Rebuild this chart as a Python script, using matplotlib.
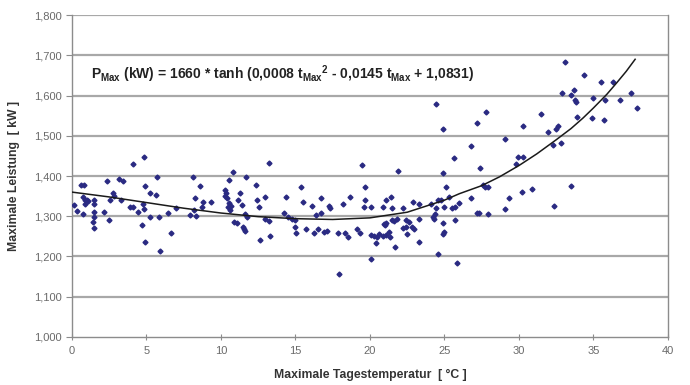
import matplotlib
matplotlib.use("Agg")
import matplotlib.pyplot as plt
from matplotlib.ticker import FuncFormatter

plt.rcParams['font.family'] = ['Liberation Sans', 'DejaVu Sans']
plt.rcParams['mathtext.fontset'] = 'custom'
plt.rcParams['mathtext.rm'] = 'Liberation Sans'
plt.rcParams['mathtext.bf'] = 'Liberation Sans:bold'
plt.rcParams['mathtext.it'] = 'Liberation Sans:italic'

# Scatter data: maximum daily temperature (°C) and maximum load (kW)
temp = [0.13, 0.36, 0.6, 0.8, 0.72, 0.76, 0.87, 1.0, 1.1, 0.87, 1.48, 1.48, 1.48, 1.48, 1.39, 1.48,
        2.17, 2.33, 2.5, 2.55, 2.77, 2.85, 3.18, 3.45, 3.27, 3.9, 4.1, 4.07, 4.83, 4.9, 5.23, 5.64,
        5.73, 4.45, 4.83, 4.8, 4.68, 4.9, 5.23, 5.86, 5.9, 6.46, 6.62, 6.98,
        8.14, 8.6, 8.26, 8.8, 9.3, 7.9, 8.3, 8.2, 8.7, 10.83, 10.56, 11.68, 10.3, 10.35, 10.3, 10.4,
        10.55, 10.5, 10.6, 10.7, 11.16, 11.27, 11.39, 11.6, 11.77, 10.9, 11.1, 11.5, 11.55, 11.6,
        12.35, 12.4, 12.95, 12.57, 13.24, 12.95, 13.2, 12.6, 13.3,
        19.5, 14.2, 14.36, 14.5, 14.8, 15.0, 14.97, 15.03, 15.39, 15.48, 15.7, 16.1, 16.26, 16.38,
        16.53, 16.7, 16.7, 16.9, 17.1, 17.27, 17.3, 17.87, 17.94, 18.2, 18.3, 18.5, 18.66, 19.1,
        19.3, 19.6, 19.7, 19.7, 20.1, 20.1, 20.3, 20.5, 20.1, 20.4,
        24.43, 24.88, 27.16, 26.8, 25.64, 21.9, 24.88, 25.1, 20.85, 21.1, 21.4, 21.5, 21.1, 21.0,
        20.95, 20.6, 20.9, 21.1, 21.3, 21.35, 21.7, 21.5, 21.6, 21.8, 22.2, 22.2, 22.4, 22.45,
        22.6, 22.5, 22.8, 22.95, 22.9, 23.3, 23.3, 23.3, 24.1, 24.2, 24.3, 24.4, 24.6, 24.75,
        24.45, 24.9, 24.9, 25.0, 24.6, 25.86, 25.0, 25.3, 25.5, 25.7, 26.0, 25.7, 26.8, 27.2,
        33.1, 32.86, 33.5, 33.7, 33.75, 33.8, 33.9, 27.8, 31.5, 30.3, 31.97, 32.5, 32.6, 29.06,
        32.26, 32.8, 29.95, 30.3, 29.8, 27.4, 27.6, 27.7, 27.9, 29.35, 30.2, 30.9, 33.47, 27.3,
        27.9, 29.06, 32.35, 34.36, 35.5, 36.3, 34.95, 35.77, 36.8, 37.5, 37.9, 34.9, 35.7]
load = [1327, 1312, 1378, 1378, 1306, 1349, 1340, 1341, 1338, 1330, 1340, 1330, 1311, 1299, 1286, 1272,
        1311, 1388, 1291, 1340, 1357, 1350, 1392, 1388, 1340, 1324, 1324, 1430, 1447, 1375, 1359, 1354,
        1398, 1311, 1317, 1330, 1278, 1237, 1299, 1299, 1214, 1309, 1259, 1321,
        1398, 1375, 1345, 1336, 1336, 1303, 1300, 1315, 1324, 1411, 1390, 1398, 1365, 1358, 1350, 1345,
        1332, 1322, 1315, 1325, 1340, 1358, 1328, 1306, 1298, 1285, 1283, 1274, 1268, 1264,
        1378, 1340, 1349, 1324, 1432, 1293, 1287, 1241, 1251,
        1427, 1309, 1349, 1298, 1294, 1290, 1274, 1258, 1372, 1336, 1268, 1325, 1258, 1303,
        1268, 1345, 1309, 1262, 1264, 1325, 1320, 1258, 1157, 1330, 1258, 1249, 1349, 1268,
        1259, 1322, 1372, 1340, 1322, 1253, 1251, 1249, 1193, 1233,
        1579, 1516, 1531, 1475, 1444, 1413, 1408, 1373, 1324, 1341, 1349, 1321, 1284, 1278,
        1280, 1256, 1250, 1254, 1262, 1249, 1224, 1291, 1287, 1292, 1320, 1270, 1273, 1291,
        1286, 1256, 1273, 1268, 1336, 1330, 1294, 1237, 1331, 1298, 1294, 1305, 1340, 1340,
        1320, 1282, 1256, 1260, 1206, 1185, 1322, 1349, 1320, 1323, 1333, 1291, 1345, 1309,
        1684, 1605, 1602, 1614, 1590, 1585, 1546, 1558, 1554, 1524, 1510, 1518, 1524, 1491,
        1477, 1483, 1446, 1446, 1430, 1419, 1378, 1372, 1373, 1345, 1361, 1367, 1375, 1307,
        1306, 1317, 1326, 1651, 1634, 1634, 1593, 1589, 1589, 1607, 1568, 1543, 1539]

# Fitted trend curve as drawn in the chart
curve_t = [0, 2.5, 5, 7.5, 10, 12.5, 15, 17.5, 20, 22.5, 25, 26, 27.5, 28.7, 30, 31.2, 32.5, 33.5, 34.3, 35.0, 35.9, 36.55, 37.2, 37.8]
curve_p = [1360, 1348, 1334, 1320, 1308, 1299, 1294, 1292, 1296, 1310, 1340, 1356, 1376, 1398, 1426, 1455, 1490, 1518, 1544, 1569, 1603, 1631, 1660, 1690]

y_ticks = [1000, 1100, 1200, 1300, 1400, 1500, 1600, 1700, 1800]
x_ticks = [0, 5, 10, 15, 20, 25, 30, 35, 40]

fig = plt.figure(figsize=(6.9, 3.85), dpi=100)
ax = fig.add_axes([0.1043, 0.1247, 0.8637, 0.8363])

grid_col = '#a8a8a8'
for yv in y_ticks[1:]:
    ax.axhline(yv, color=grid_col, lw=1.6, zorder=1)

ax.plot(temp, load, linestyle='none', marker='D', ms=2.5, color='#2a2a82', zorder=3)
ax.plot(curve_t, curve_p, color='#1a1a1a', lw=1.1, zorder=4)

ax.set_xlim(0, 40)
ax.set_ylim(1000, 1800)
ax.set_xticks(x_ticks)
ax.set_yticks(y_ticks)
ax.yaxis.set_major_formatter(FuncFormatter(lambda v, p: f"{int(v):,}"))

ax.spines['top'].set_visible(False)
for side in ['left', 'bottom', 'right']:
    ax.spines[side].set_color('#8c8c8c')
    ax.spines[side].set_linewidth(1.0)

ax.tick_params(axis='both', direction='out', length=4, width=0.8, color='#8c8c8c',
               labelsize=8, labelcolor='#6a6a6a')
ax.tick_params(axis='x', direction='inout', length=5, pad=4)

ax.set_xlabel('Maximale Tagestemperatur  [ °C ]', fontsize=8.8, fontweight='bold', color='#333333', labelpad=9)
ax.set_ylabel('Maximale Leistung  [ kW ]', fontsize=8.8, fontweight='bold', color='#333333', labelpad=10)

formula = (r"$\mathbf{P_{Max}}$ (kW) = 1660 * tanh (0,0008 $\mathbf{t_{Max}}^{\mathbf{2}}$"
           r" - 0,0145 $\mathbf{t_{Max}}$ + 1,0831)")
ax.text(1.3, 1652, formula, fontsize=10, fontweight='bold', color='#222222',
        va='center', ha='left', zorder=5)

fig.savefig('out.png', dpi=100)
